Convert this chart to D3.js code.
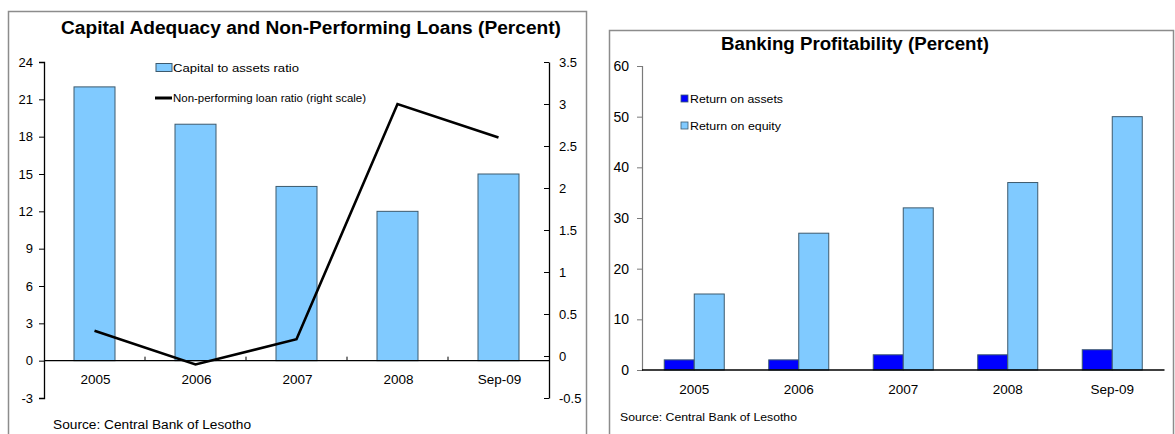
<!DOCTYPE html>
<html>
<head>
<meta charset="utf-8">
<script src="https://cdn.jsdelivr.net/npm/d3@7"></script>
<style>
  html, body { margin: 0; padding: 0; background: #fff; }
  svg { display: block; font-family: "Liberation Sans", Arial, sans-serif; }
</style>
</head>
<body>
<svg id="chart" width="1175" height="434"></svg>
<script>
// ---- data ----
const categories = ["2005", "2006", "2007", "2008", "Sep-09"];
const capitalToAssets = [22, 19, 14, 12, 15];
const nplRatio = [0.3, -0.1, 0.2, 3.0, 2.6];
const returnOnAssets = [2, 2, 3, 3, 4];
const returnOnEquity = [15, 27, 32, 37, 50];
const leftTicks = [-3, 0, 3, 6, 9, 12, 15, 18, 21, 24];
const rightTicks = [-0.5, 0, 0.5, 1, 1.5, 2, 2.5, 3, 3.5];
const profitTicks = [0, 10, 20, 30, 40, 50, 60];

const svg = d3.select("#chart");
const lightBlue = "#80CAFF";
const darkBlue = "#0000FF";
const barEdge = "#3d5a6e";
const frameColor = "#8c8c8c";
const fmt = d => String(d);   // plain hyphen for negatives

// ================= Panel 1: capital adequacy and NPLs =================
const p1 = svg.append("g");
p1.append("rect").attr("x", 8.5).attr("y", 11.5).attr("width", 578).attr("height", 440)
  .attr("fill", "#fff").attr("stroke", frameColor).attr("stroke-width", 1.5);

p1.append("text").attr("x", 311).attr("y", 34).attr("text-anchor", "middle")
  .attr("font-weight", "bold").attr("font-size", 18)
  .attr("textLength", 500).attr("lengthAdjust", "spacingAndGlyphs")
  .text("Capital Adequacy and Non-Performing Loans (Percent)");

const x1 = d3.scaleBand().domain(categories).range([44, 549]).paddingInner(0).paddingOuter(0);
const yL = d3.scaleLinear().domain([-3, 24]).range([398, 62]);
const yR = d3.scaleLinear().domain([-0.5, 3.5]).range([398, 62]);
const barW1 = 41;

// bars
p1.selectAll("rect.cap").data(categories).enter().append("rect")
  .attr("class", "cap")
  .attr("x", d => x1(d) + x1.bandwidth() / 2 - barW1 / 2)
  .attr("y", (d, i) => yL(capitalToAssets[i]))
  .attr("width", barW1)
  .attr("height", (d, i) => yL(0) - yL(capitalToAssets[i]))
  .attr("fill", lightBlue).attr("stroke", barEdge).attr("stroke-width", 1);

// left axis
const axL = p1.append("g").attr("transform", "translate(44,0)")
  .call(d3.axisLeft(yL).tickValues(leftTicks).tickSize(5).tickPadding(6).tickFormat(fmt));
axL.select(".domain").attr("stroke", "#000").attr("stroke-width", 1.3);
axL.selectAll(".tick line").attr("stroke", "#000");
axL.selectAll("text").attr("font-size", 13).attr("fill", "#000").attr("font-family", "Liberation Sans, Arial, sans-serif");

// right axis (ticks drawn inward)
const axR = p1.append("g").attr("transform", "translate(549,0)")
  .call(d3.axisRight(yR).tickValues(rightTicks).tickSize(0).tickPadding(10).tickFormat(fmt));
axR.select(".domain").attr("stroke", "#000").attr("stroke-width", 1.3);
axR.selectAll(".tick").append("line").attr("x1", -5).attr("x2", 0).attr("stroke", "#000");
axR.selectAll("text").attr("font-size", 13).attr("fill", "#000").attr("font-family", "Liberation Sans, Arial, sans-serif");

// category axis at zero
const y0 = yL(0);
p1.append("line").attr("x1", 44).attr("x2", 549).attr("y1", y0).attr("y2", y0)
  .attr("stroke", "#000").attr("stroke-width", 1.3);
p1.selectAll("line.sep").data(categories.slice(1)).enter().append("line")
  .attr("class", "sep")
  .attr("x1", d => x1(d)).attr("x2", d => x1(d))
  .attr("y1", y0 - 4).attr("y2", y0).attr("stroke", "#000");
p1.selectAll("text.cat").data(categories).enter().append("text")
  .attr("class", "cat")
  .attr("x", d => x1(d) + x1.bandwidth() / 2 + 1)
  .attr("y", 384).attr("text-anchor", "middle").attr("font-size", 13.5)
  .text(d => d);

// NPL line on right scale
const line = d3.line()
  .x((d, i) => x1(categories[i]) + x1.bandwidth() / 2)
  .y(d => yR(d));
p1.append("path").datum(nplRatio).attr("d", line)
  .attr("fill", "none").attr("stroke", "#000").attr("stroke-width", 2.6)
  .attr("stroke-linejoin", "miter");

// legend
p1.append("rect").attr("x", 156).attr("y", 63.5).attr("width", 16).attr("height", 8)
  .attr("fill", lightBlue).attr("stroke", barEdge).attr("stroke-width", 1);
p1.append("text").attr("x", 173).attr("y", 72).attr("font-size", 11.5)
  .attr("textLength", 126).attr("lengthAdjust", "spacingAndGlyphs")
  .text("Capital to assets ratio");
p1.append("line").attr("x1", 155).attr("x2", 172).attr("y1", 98).attr("y2", 98)
  .attr("stroke", "#000").attr("stroke-width", 3);
p1.append("text").attr("x", 173).attr("y", 102).attr("font-size", 11.5)
  .attr("textLength", 193).attr("lengthAdjust", "spacingAndGlyphs")
  .text("Non-performing loan ratio (right scale)");

p1.append("text").attr("x", 53).attr("y", 429).attr("font-size", 12)
  .attr("textLength", 198).attr("lengthAdjust", "spacingAndGlyphs")
  .text("Source: Central Bank of Lesotho");

// ================= Panel 2: banking profitability =================
const p2 = svg.append("g");
p2.append("rect").attr("x", 609.5).attr("y", 30.5).attr("width", 564).attr("height", 420)
  .attr("fill", "#fff").attr("stroke", frameColor).attr("stroke-width", 1.5);

p2.append("text").attr("x", 855).attr("y", 50).attr("text-anchor", "middle")
  .attr("font-weight", "bold").attr("font-size", 18)
  .attr("textLength", 268).attr("lengthAdjust", "spacingAndGlyphs")
  .text("Banking Profitability (Percent)");

const x2 = d3.scaleBand().domain(categories).range([642, 1164.5]).paddingInner(0).paddingOuter(0);
const y2 = d3.scaleLinear().domain([0, 60]).range([370, 66]);
const barW2 = 30;
const series2 = [
  { name: "Return on assets", values: returnOnAssets, color: darkBlue, offset: -barW2 },
  { name: "Return on equity", values: returnOnEquity, color: lightBlue, offset: 0 }
];

series2.forEach(s => {
  p2.selectAll(null).data(categories).enter().append("rect")
    .attr("x", d => x2(d) + x2.bandwidth() / 2 + s.offset)
    .attr("y", (d, i) => y2(s.values[i]))
    .attr("width", barW2)
    .attr("height", (d, i) => y2(0) - y2(s.values[i]))
    .attr("fill", s.color).attr("stroke", barEdge).attr("stroke-width", 1);
});

const ax2 = p2.append("g").attr("transform", "translate(642,0)")
  .call(d3.axisLeft(y2).tickValues(profitTicks).tickSize(5).tickPadding(8).tickFormat(fmt));
ax2.select(".domain").attr("stroke", "#7a7a7a").attr("stroke-width", 1.2);
ax2.selectAll(".tick line").attr("stroke", "#7a7a7a");
ax2.selectAll("text").attr("font-size", 14).attr("fill", "#000").attr("font-family", "Liberation Sans, Arial, sans-serif");

p2.append("line").attr("x1", 642).attr("x2", 1164.5).attr("y1", y2(0)).attr("y2", y2(0))
  .attr("stroke", "#000").attr("stroke-width", 1.5);
p2.selectAll("text.cat").data(categories).enter().append("text")
  .attr("class", "cat")
  .attr("x", d => x2(d) + x2.bandwidth() / 2)
  .attr("y", 394).attr("text-anchor", "middle").attr("font-size", 13.5)
  .text(d => d);

// legend
const leg2 = p2.selectAll("g.leg").data(series2).enter().append("g")
  .attr("transform", (d, i) => `translate(681,${95 + i * 27})`);
leg2.append("rect").attr("width", 7).attr("height", 7)
  .attr("fill", d => d.color).attr("stroke", barEdge).attr("stroke-width", 0.8);
leg2.append("text").attr("x", 9).attr("y", 7.5).attr("font-size", 11)
  .attr("textLength", (d, i) => i === 0 ? 93 : 91).attr("lengthAdjust", "spacingAndGlyphs")
  .text(d => d.name);

p2.append("text").attr("x", 620).attr("y", 421).attr("font-size", 11.5)
  .attr("textLength", 177).attr("lengthAdjust", "spacingAndGlyphs")
  .text("Source: Central Bank of Lesotho");
</script>
</body>
</html>
